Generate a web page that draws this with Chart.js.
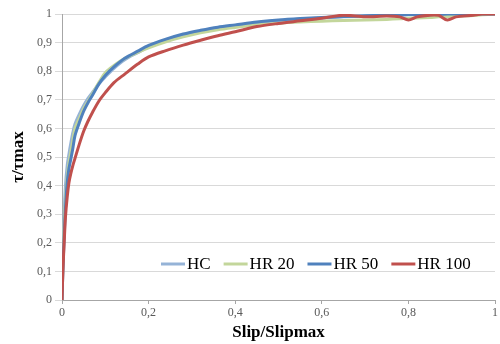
<!DOCTYPE html>
<html>
<head>
<meta charset="utf-8">
<script src="https://cdn.jsdelivr.net/npm/chart.js@4"></script>
<style>
  html, body { margin: 0; padding: 0; background: #fff; }
  #wrap { width: 500px; height: 344px; }
</style>
</head>
<body>
<div id="wrap"><canvas id="slipChart" width="500" height="344"></canvas></div>
<script>
// Normalised bond stress vs normalised slip
const slip = [0, 0.002, 0.005, 0.008, 0.012, 0.016, 0.02, 0.025, 0.03, 0.04, 0.05, 0.06, 0.07, 0.085, 0.1,
  0.12, 0.145, 0.175, 0.2, 0.24, 0.28, 0.32, 0.36, 0.4, 0.45, 0.5, 0.55, 0.6, 0.65, 0.7,
  0.75, 0.78, 0.8, 0.82, 0.85, 0.87, 0.89, 0.91, 0.95, 0.97, 1];

const hc = [0, 0.15, 0.3, 0.4, 0.47, 0.51, 0.545, 0.585, 0.615, 0.65, 0.68, 0.705, 0.725, 0.755, 0.78,
  0.81, 0.84, 0.865, 0.885, 0.908, 0.926, 0.94, 0.951, 0.96, 0.969, 0.977, 0.982, 0.986, 0.99, 0.993,
  0.995, 0.996, 0.997, 0.998, 0.998, 0.999, 0.999, 1, 1, 1, 1];

const hr20 = [0, 0.12, 0.26, 0.35, 0.43, 0.48, 0.515, 0.56, 0.6, 0.635, 0.67, 0.695, 0.72, 0.76, 0.795,
  0.82, 0.845, 0.866, 0.882, 0.903, 0.92, 0.934, 0.945, 0.953, 0.962, 0.968, 0.972, 0.975, 0.977, 0.979,
  0.981, 0.983, 0.985, 0.986, 0.988, 0.99, 0.991, 0.993, 0.995, 0.997, 1];

const hr50 = [0, 0.1, 0.22, 0.32, 0.41, 0.46, 0.49, 0.53, 0.575, 0.62, 0.66, 0.69, 0.715, 0.755, 0.785,
  0.815, 0.845, 0.87, 0.89, 0.912, 0.93, 0.943, 0.954, 0.962, 0.972, 0.979, 0.984, 0.988, 0.991, 0.994,
  0.996, 0.997, 0.998, 0.998, 0.999, 0.999, 1, 1, 1, 1, 1];

const hr100 = [0, 0.1, 0.2, 0.29, 0.36, 0.41, 0.44, 0.47, 0.495, 0.545, 0.59, 0.625, 0.655, 0.695, 0.725,
  0.76, 0.79, 0.825, 0.85, 0.872, 0.891, 0.908, 0.924, 0.938, 0.956, 0.967, 0.976, 0.985, 0.996, 0.99,
  0.993, 0.99, 0.979, 0.99, 0.996, 0.995, 0.979, 0.99, 0.996, 1, 1];

const seriesNames = ['HC', 'HR 20', 'HR 50', 'HR 100'];
const seriesColors = ['#95b3d7', '#c3d69b', '#4f81bd', '#c0504d'];
const seriesValues = [hc, hr20, hr50, hr100];

const serif = "'Liberation Serif', 'Times New Roman', serif";

function commaLabel(v) {
  return String(Number(v.toFixed(1))).replace('.', ',');
}

// legend drawn inside the plot area, like the original
const innerLegend = {
  id: 'innerLegend',
  afterDatasetsDraw(chart) {
    const ctx = chart.ctx;
    const area = chart.chartArea;
    let x = area.left + 99;
    const y = 264;
    ctx.save();
    ctx.font = '17px ' + serif;
    ctx.textBaseline = 'middle';
    ctx.textAlign = 'left';
    chart.data.datasets.forEach(ds => {
      ctx.strokeStyle = ds.borderColor;
      ctx.lineWidth = 3;
      ctx.beginPath();
      ctx.moveTo(x, y);
      ctx.lineTo(x + 24, y);
      ctx.stroke();
      x += 26;
      ctx.fillStyle = '#000';
      ctx.fillText(ds.label, x, y + 1);
      x += ctx.measureText(ds.label).width + 13;
    });
    ctx.restore();
  }
};

const ctx = document.getElementById('slipChart').getContext('2d');
const slipChart = new Chart(ctx, {
  type: 'line',
  data: {
    datasets: seriesNames.map((name, i) => ({
      label: name,
      data: slip.map((s, j) => ({ x: s, y: seriesValues[i][j] })),
      borderColor: seriesColors[i],
      backgroundColor: seriesColors[i],
      borderWidth: 3,
      pointRadius: 0,
      tension: 0.3,
      fill: false,
      order: 3 - i
    }))
  },
  options: {
    responsive: false,
    animation: false,
    layout: { padding: { left: 0, top: 14, right: 3, bottom: 0 } },
    plugins: {
      legend: { display: false },
      tooltip: { enabled: false }
    },
    scales: {
      x: {
        type: 'linear',
        min: 0,
        max: 1,
        afterFit: s => { s.height = 44; },
        border: { color: '#a6a6a6', width: 1 },
        grid: { drawOnChartArea: false, drawTicks: true, tickLength: 4, color: '#a6a6a6' },
        ticks: {
          stepSize: 0.2,
          padding: 2,
          color: '#595959',
          font: { family: serif, size: 12 },
          maxRotation: 0,
          callback: v => commaLabel(v)
        },
        title: {
          display: true,
          text: 'Slip/Slipmax',
          color: '#000',
          font: { family: serif, size: 17, weight: 'bold' },
          padding: { top: 0, bottom: 1 }
        }
      },
      y: {
        min: 0,
        max: 1,
        afterFit: s => { s.width = 62; },
        border: { color: '#a6a6a6', width: 1 },
        grid: { color: '#d9d9d9', lineWidth: 1, tickLength: 7, drawTicks: true },
        ticks: {
          stepSize: 0.1,
          padding: 3,
          color: '#595959',
          font: { family: serif, size: 12 },
          callback: v => commaLabel(v)
        },
        title: {
          display: true,
          text: 'τ/τmax',
          color: '#000',
          font: { family: serif, size: 17, weight: 'bold' },
          padding: { top: 8, bottom: 0 }
        }
      }
    }
  },
  plugins: [innerLegend]
});
</script>
</body>
</html>
